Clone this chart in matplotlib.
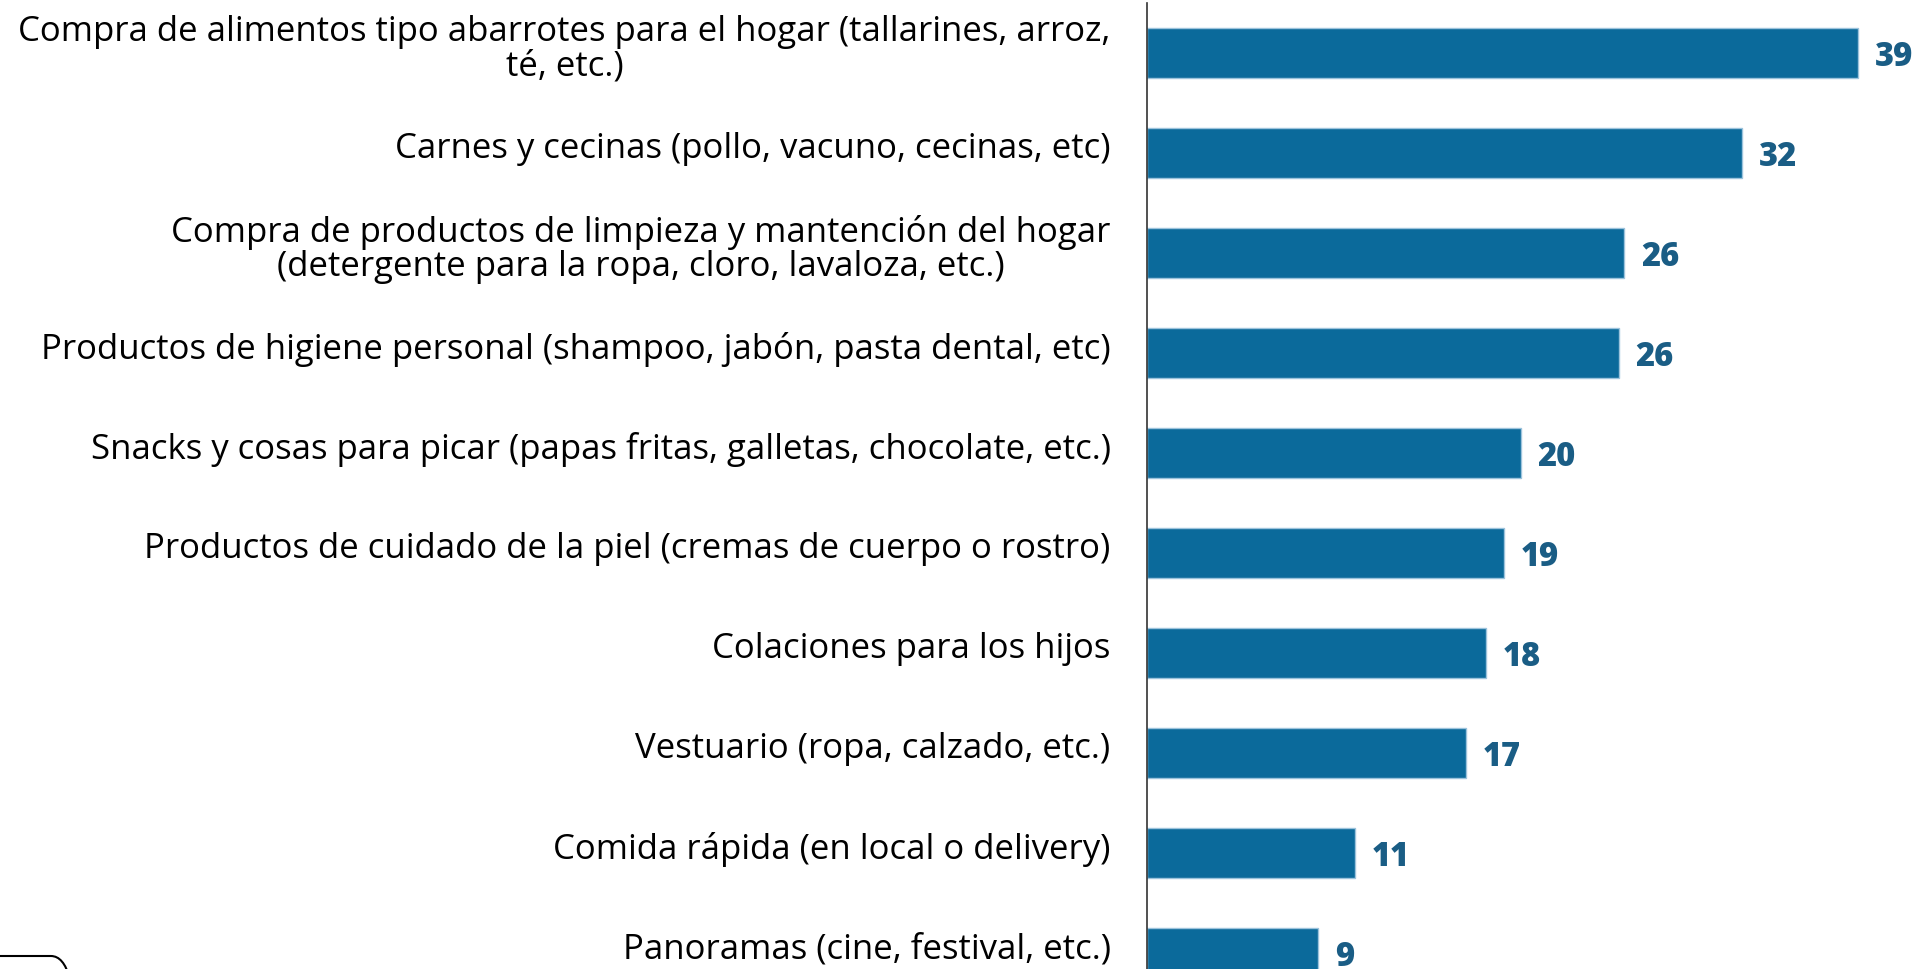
import matplotlib
matplotlib.use('Agg')
import matplotlib.pyplot as plt
from matplotlib.patches import FancyBboxPatch
from matplotlib.transforms import IdentityTransform

# categories, top to bottom
categories = [
    "Compra de alimentos tipo abarrotes para el hogar (tallarines, arroz,\nté, etc.)",
    "Carnes y cecinas (pollo, vacuno, cecinas, etc)",
    "Compra de productos de limpieza y mantención del hogar\n(detergente para la ropa, cloro, lavaloza, etc.)",
    "Productos de higiene personal (shampoo, jabón, pasta dental, etc)",
    "Snacks y cosas para picar (papas fritas, galletas, chocolate, etc.)",
    "Productos de cuidado de la piel (cremas de cuerpo o rostro)",
    "Colaciones para los hijos",
    "Vestuario (ropa, calzado, etc.)",
    "Comida rápida (en local o delivery)",
    "Panoramas (cine, festival, etc.)",
]
# bar lengths (labels show the rounded value)
values = [38.6, 32.3, 25.9, 25.6, 20.3, 19.4, 18.4, 17.3, 11.3, 9.3]
value_labels = ["39", "32", "26", "26", "20", "19", "18", "17", "11", "9"]

bar_color = '#0b6a9b'
edge_color = '#9cc3dc'
label_color = '#1a5d85'

plt.rcParams['font.family'] = ['Open Sans', 'DejaVu Sans']

W, H = 1916, 969
fig = plt.figure(figsize=(W / 100, H / 100), dpi=100)
ax = fig.add_axes([1146.7 / W, 0, 1 - 1146.7 / W, 1 - 3.3 / H])

ypos = list(range(len(categories)))
ax.barh(ypos, values, height=0.5, color=bar_color, edgecolor=edge_color, linewidth=1.0)

for y, v, lab in zip(ypos, values, value_labels):
    ax.annotate(lab, (v, y), xytext=(12, -3), textcoords='offset points',
                va='center', ha='left', fontsize=23.5, fontweight=800, color=label_color)

# category labels, right aligned left of the axis, lines centred
for y, cat in zip(ypos, categories):
    ax.annotate(cat, (0, y), xytext=(-26, 2.8), textcoords='offset points',
                ha='right', va='center', multialignment='center', linespacing=1.0,
                fontsize=25, color='black', annotation_clip=False)

ax.set_xlim(0, (W - 1146.7) / 18.44)
ax.set_ylim(-0.5 + (H - 3.3) / 100, -0.5)
ax.set_xticks([])
ax.set_yticks([])

for s in ['top', 'right', 'bottom']:
    ax.spines[s].set_visible(False)
ax.spines['left'].set_color('#333333')
ax.spines['left'].set_linewidth(1.2)

# stray rounded box corner at bottom left
box = FancyBboxPatch((-60, -100), 136, 113, boxstyle="round,pad=0,rounding_size=25",
                     transform=IdentityTransform(), fill=False, edgecolor='black',
                     linewidth=1.5, figure=fig)
fig.patches.append(box)

fig.savefig('out.png', dpi=100)
